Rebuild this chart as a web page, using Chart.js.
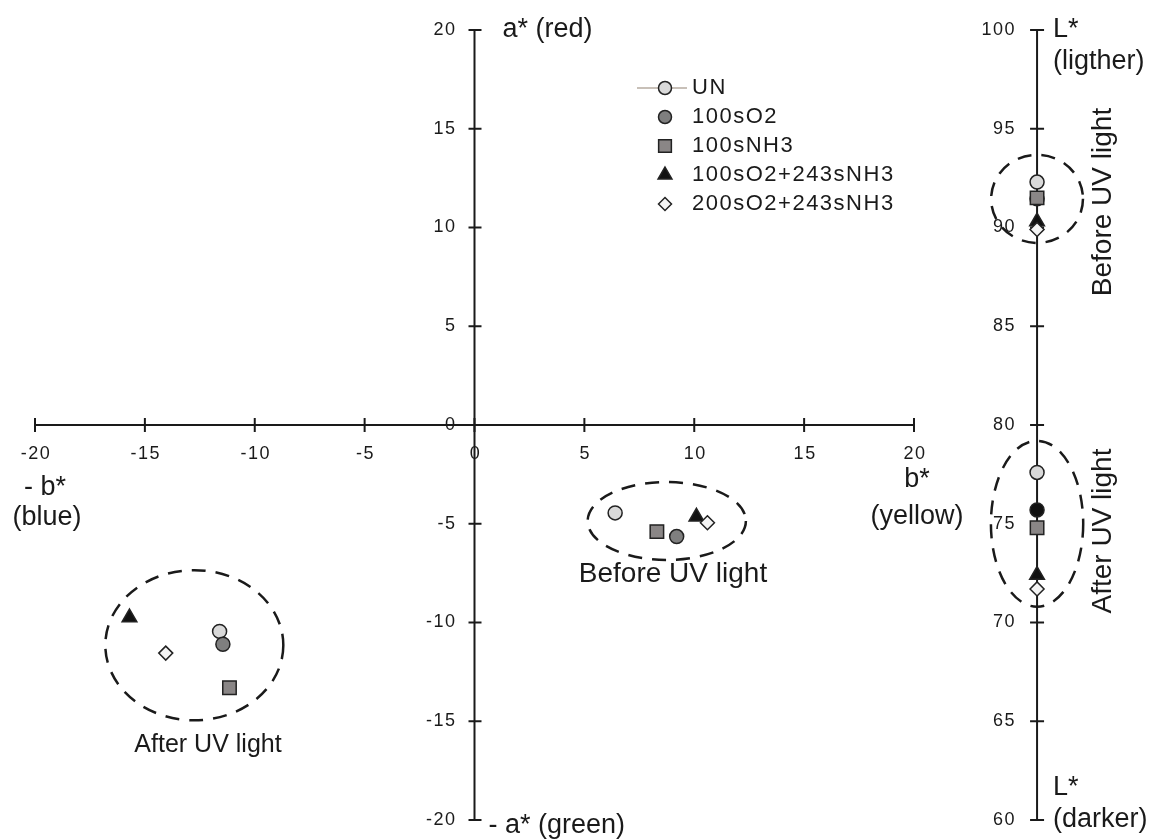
<!DOCTYPE html>
<html lang="en">
<head>
<meta charset="UTF-8">
<title>CIELab coordinates before and after UV light</title>
<script src="https://cdn.jsdelivr.net/npm/chart.js"></script>
<style>
  html, body { margin: 0; padding: 0; background: #fff; }
</style>
</head>
<body>
<canvas id="chart" width="1150" height="840"></canvas>
<script>
// samples
const series = ['UN', '100sO2', '100sNH3', '100sO2+243sNH3', '200sO2+243sNH3'];
// b* / a* before and after UV light
const bBefore = [6.4, 9.2, 8.3, 10.1, 10.6];
const aBefore = [-4.45, -5.65, -5.4, -4.65, -4.95];
const bAfter = [-11.6, -11.45, -11.15, -15.7, -14.05];
const aAfter = [-10.45, -11.1, -13.3, -9.75, -11.55];
// L* before and after UV light
const lBefore = [92.3, 91.45, 91.5, 90.3, 89.9];
const lAfter = [77.6, 75.7, 74.8, 72.4, 71.7];
// tick labels
const abTicks = [-20, -15, -10, -5, 0, 5, 10, 15, 20];
const lTicks = [60, 65, 70, 75, 80, 85, 90, 95, 100];

// where the L* axis sits, in b* units
const L_AXIS_B = 25.6;

const styles = [
  { pointStyle: 'circle',   radius: 7,   bg: '#d9d9d9', lbg: '#d9d9d9' },
  { pointStyle: 'circle',   radius: 7,   bg: '#7f7f7f', lbg: '#111111' },
  { pointStyle: 'rect',     radius: 9.5, bg: '#8a8686', lbg: '#8a8686' },
  { pointStyle: 'triangle', radius: 8.5, bg: '#111111', lbg: '#111111' },
  { pointStyle: 'rectRot',  radius: 7,   bg: '#f4f4f4', lbg: '#f4f4f4' }
];

const FONT = "'Liberation Sans', Arial, sans-serif";

const datasets = [];
series.forEach((name, i) => {
  const s = styles[i];
  datasets.push({
    label: name,
    data: [{ x: bBefore[i], y: aBefore[i] }, { x: bAfter[i], y: aAfter[i] }],
    xAxisID: 'x', yAxisID: 'y',
    pointStyle: s.pointStyle, pointRadius: s.radius, pointHoverRadius: s.radius,
    backgroundColor: s.bg, borderColor: '#222', borderWidth: 1.5,
    order: series.length - i, clip: false
  });
  datasets.push({
    label: name + ' L*',
    data: [{ x: L_AXIS_B, y: lBefore[i] }, { x: L_AXIS_B, y: lAfter[i] }],
    xAxisID: 'x', yAxisID: 'yL',
    pointStyle: s.pointStyle, pointRadius: s.radius, pointHoverRadius: s.radius,
    backgroundColor: s.lbg, borderColor: '#222', borderWidth: 1.5,
    order: series.length - i, clip: false
  });
});

// dashed groups
const groups = [
  { axis: 'y',  cx: 8.75,     cy: -4.86,  rx: 3.6,  ry: 1.97 },
  { axis: 'y',  cx: -12.75,   cy: -11.15, rx: 4.05, ry: 3.8 },
  { axis: 'yL', cx: L_AXIS_B, cy: 91.45,  rx: 2.09, ry: 2.23 },
  { axis: 'yL', cx: L_AXIS_B, cy: 75.0,   rx: 2.1,  ry: 4.2 }
];

function line(ctx, x1, y1, x2, y2) {
  ctx.beginPath(); ctx.moveTo(x1, y1); ctx.lineTo(x2, y2); ctx.stroke();
}

function text(ctx, str, x, y, size, align, spacing) {
  ctx.font = size + 'px ' + FONT;
  ctx.textAlign = align || 'center';
  ctx.textBaseline = 'middle';
  ctx.letterSpacing = (spacing || 0) + 'px';
  ctx.fillText(str, x, y);
}

const labPlugin = {
  id: 'labAxes',
  beforeDatasetsDraw(chart) {
    const { ctx, scales: { x, y, yL } } = chart;
    const x0 = x.getPixelForValue(0);
    const y0 = y.getPixelForValue(0);
    const xl = x.getPixelForValue(L_AXIS_B);
    ctx.save();
    ctx.strokeStyle = '#1a1a1a';
    ctx.fillStyle = '#1a1a1a';
    ctx.lineWidth = 2;

    // b* axis
    line(ctx, x.getPixelForValue(-20), y0, x.getPixelForValue(20), y0);
    abTicks.forEach(v => {
      const px = x.getPixelForValue(v);
      line(ctx, px, y0 - 7, px, y0 + 7);
      text(ctx, String(v), px + 1, y0 + 29, 18, 'center', 1.5);
    });
    // a* axis
    line(ctx, x0, y.getPixelForValue(20), x0, y.getPixelForValue(-20));
    abTicks.forEach(v => {
      const py = y.getPixelForValue(v);
      line(ctx, x0 - 6, py, x0 + 7, py);
      text(ctx, String(v), x0 - 18, py, 18, 'right', 1.5);
    });
    // L* axis
    line(ctx, xl, yL.getPixelForValue(100), xl, yL.getPixelForValue(60));
    lTicks.forEach(v => {
      const py = yL.getPixelForValue(v);
      line(ctx, xl - 7, py, xl + 7, py);
      text(ctx, String(v), xl - 21, py, 18, 'right', 1.5);
    });

    // dashed ellipses
    ctx.setLineDash([14, 10]);
    ctx.lineWidth = 2.5;
    groups.forEach(g => {
      const ys = chart.scales[g.axis];
      const cx = x.getPixelForValue(g.cx), cy = ys.getPixelForValue(g.cy);
      const rx = Math.abs(x.getPixelForValue(g.cx + g.rx) - cx);
      const ry = Math.abs(ys.getPixelForValue(g.cy + g.ry) - cy);
      ctx.beginPath();
      ctx.ellipse(cx, cy, rx, ry, 0, 0, Math.PI * 2);
      ctx.stroke();
    });
    ctx.restore();
  },
  afterDraw(chart) {
    const { ctx, scales: { x, y, yL } } = chart;
    const x0 = x.getPixelForValue(0);
    const xl = x.getPixelForValue(L_AXIS_B);
    ctx.save();
    ctx.fillStyle = '#1a1a1a';

    // axis titles
    text(ctx, 'a* (red)', x0 + 28, y.getPixelForValue(20), 27, 'left');
    text(ctx, '- a* (green)', x0 + 14, y.getPixelForValue(-20) + 6, 27, 'left');
    text(ctx, '- b*', x.getPixelForValue(-20) + 10, 488, 27);
    text(ctx, '(blue)', x.getPixelForValue(-20) + 12, 518, 27);
    text(ctx, 'b*', x.getPixelForValue(20) + 3, 480, 27);
    text(ctx, '(yellow)', x.getPixelForValue(20) + 3, 517, 27);
    text(ctx, 'L*', xl + 16, yL.getPixelForValue(100), 27, 'left');
    text(ctx, '(ligther)', xl + 16, yL.getPixelForValue(100) + 32, 27, 'left');
    text(ctx, 'L*', xl + 16, yL.getPixelForValue(60) - 32, 27, 'left');
    text(ctx, '(darker)', xl + 16, yL.getPixelForValue(60), 27, 'left');

    // group labels
    text(ctx, 'Before UV light', 673, 574, 28);
    text(ctx, 'After UV light', 208, 745, 25);
    [['Before UV light', 202], ['After UV light', 531]].forEach(([s, cy]) => {
      ctx.save();
      ctx.translate(1103, cy);
      ctx.rotate(-Math.PI / 2);
      text(ctx, s, 0, 0, 28);
      ctx.restore();
    });

    // legend
    const lx = 665, ly = 88, step = 29;
    ctx.strokeStyle = '#c8c0b8';
    ctx.lineWidth = 2;
    line(ctx, lx - 28, ly, lx + 22, ly);
    series.forEach((name, i) => {
      const s = styles[i];
      const py = ly + i * step;
      ctx.fillStyle = s.bg;
      ctx.strokeStyle = '#222';
      ctx.lineWidth = 1.5;
      Chart.helpers.drawPoint(ctx, { pointStyle: s.pointStyle, radius: s.radius - 0.5, borderWidth: 1.5 }, lx, py);
      ctx.fillStyle = '#1a1a1a';
      text(ctx, name, lx + 27, py, 22, 'left', 1.5);
    });
    ctx.restore();
  }
};

new Chart(document.getElementById('chart').getContext('2d'), {
  type: 'scatter',
  data: { datasets },
  options: {
    responsive: false,
    animation: false,
    // x runs on past 20 so the L* axis column shares the b* scale
    layout: { padding: { left: 35, right: 16.25, top: 30, bottom: 20 } },
    scales: {
      x: { type: 'linear', min: -20, max: 30, display: false },
      y: { type: 'linear', min: -20, max: 20, display: false },
      yL: { type: 'linear', axis: 'y', min: 60, max: 100, display: false }
    },
    plugins: { legend: { display: false }, tooltip: { enabled: true } }
  },
  plugins: [labPlugin]
});
</script>
</body>
</html>
